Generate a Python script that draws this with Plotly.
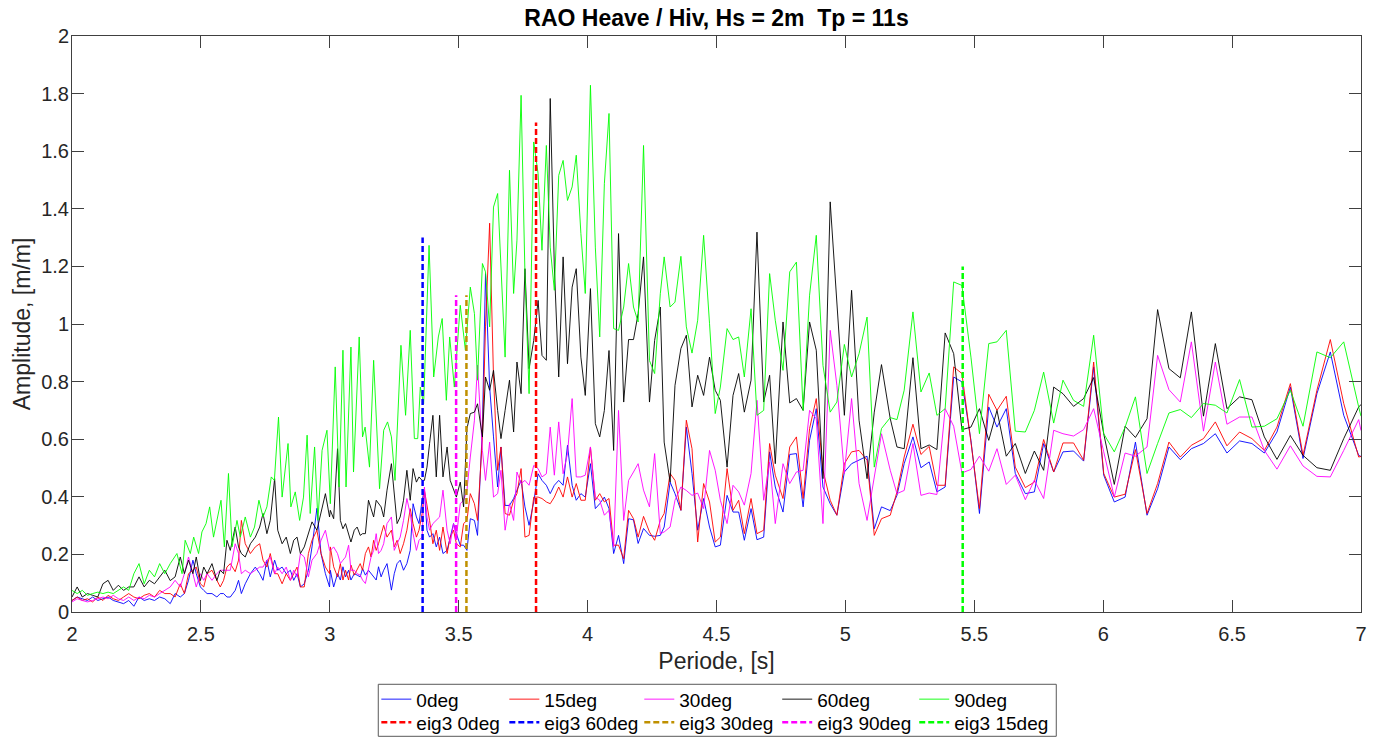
import plotly.graph_objects as go

# ---------------- period grids (s) ----------------
period_A0 = [2.00, 2.02, 2.04, 2.06, 2.08, 2.10, 2.12, 2.14, 2.16, 2.18,
             2.20, 2.22, 2.24, 2.26, 2.28, 2.30, 2.32, 2.34, 2.36]
period_A1 = [2.381, 2.400, 2.420, 2.436, 2.452, 2.469, 2.482, 2.498, 2.511, 2.524,
             2.543, 2.562, 2.575, 2.588, 2.601, 2.614, 2.633, 2.646, 2.657, 2.672,
             2.692, 2.711, 2.728, 2.741, 2.756, 2.769, 2.786, 2.798, 2.815, 2.831,
             2.847, 2.860, 2.873, 2.886, 2.901, 2.917, 2.931, 2.950, 2.966, 2.983, 2.999]
period_A1_green = [2.381, 2.407, 2.427, 2.439, 2.459, 2.472, 2.491, 2.504, 2.520, 2.534,
                   2.549, 2.562, 2.578, 2.591, 2.607, 2.621, 2.640, 2.653, 2.672, 2.692,
                   2.708, 2.725, 2.741, 2.756, 2.773, 2.785, 2.801, 2.815, 2.838, 2.849,
                   2.866, 2.883, 2.898, 2.912, 2.924, 2.941, 2.954, 2.970, 2.989]
period_B = [3.002, 3.015, 3.030, 3.041, 3.051, 3.061, 3.073, 3.082, 3.095, 3.106,
            3.118, 3.127, 3.138, 3.150, 3.160, 3.170, 3.180, 3.189, 3.199, 3.209,
            3.222, 3.239, 3.250, 3.261, 3.273, 3.286, 3.299, 3.312, 3.323, 3.336,
            3.346, 3.358, 3.367, 3.377, 3.387, 3.400, 3.413, 3.426, 3.439, 3.455,
            3.467, 3.480, 3.491, 3.506, 3.519, 3.532]
period_B_green = [3.002, 3.021, 3.036, 3.051, 3.063, 3.082, 3.092, 3.114, 3.127, 3.137,
                  3.154, 3.170, 3.193, 3.209, 3.224, 3.239, 3.253, 3.276, 3.294, 3.312,
                  3.328, 3.341, 3.351, 3.364, 3.385, 3.403, 3.421, 3.436, 3.452, 3.465,
                  3.483, 3.506, 3.526]
period_hi = [3.545, 3.561, 3.573, 3.592, 3.604, 3.620, 3.635, 3.651, 3.664, 3.680,
             3.697, 3.713, 3.726, 3.742, 3.757, 3.773, 3.791, 3.808, 3.823, 3.840,
             3.855, 3.871, 3.888, 3.905, 3.922, 3.940, 3.956, 3.974, 3.991, 4.011,
             4.030, 4.047,
             4.065, 4.083, 4.101, 4.120, 4.140, 4.159, 4.178, 4.196, 4.217, 4.240, 4.260,
             4.282, 4.297, 4.320, 4.339, 4.362, 4.383, 4.405, 4.427, 4.450, 4.473,
             4.495, 4.515, 4.541, 4.564, 4.586, 4.608, 4.634, 4.657, 4.683, 4.706,
             4.728, 4.758, 4.784, 4.810, 4.836, 4.861, 4.887, 4.913, 4.941, 4.967,
             4.996, 5.024, 5.053, 5.084, 5.112, 5.140,
             5.174, 5.200, 5.228, 5.262, 5.293, 5.325, 5.355, 5.387, 5.420, 5.452,
             5.487, 5.520, 5.556, 5.588, 5.624, 5.659, 5.698, 5.733, 5.769, 5.808,
             5.844, 5.885, 5.924, 5.963, 6.002, 6.043,
             6.085, 6.125, 6.170, 6.211, 6.255, 6.299, 6.342, 6.389, 6.435, 6.480,
             6.529, 6.577, 6.625, 6.674, 6.726, 6.775, 6.829, 6.881, 6.933, 6.991, 7.000]

# ---------------- 0deg (blue) ----------------
amp_0deg_A0 = [0.040, 0.052, 0.046, 0.040, 0.052, 0.040, 0.046, 0.052, 0.040, 0.035,
               0.029, 0.040, 0.020, 0.052, 0.040, 0.046, 0.040, 0.052, 0.046]
amp_0deg_A1 = [0.029, 0.064, 0.052, 0.064, 0.110, 0.180, 0.133, 0.087, 0.075, 0.064,
               0.064, 0.052, 0.064, 0.064, 0.052, 0.052, 0.075, 0.110, 0.064, 0.098,
               0.133, 0.156, 0.133, 0.110, 0.180, 0.122, 0.180, 0.145, 0.156, 0.133,
               0.145, 0.110, 0.133, 0.087, 0.098, 0.145, 0.226, 0.360, 0.203, 0.133, 0.087]
amp_0deg_B = [0.145, 0.087, 0.133, 0.111, 0.157, 0.122, 0.145, 0.111, 0.133, 0.128,
              0.122, 0.151, 0.128, 0.145, 0.133, 0.122, 0.111, 0.157, 0.122, 0.145,
              0.168, 0.076, 0.133, 0.168, 0.180, 0.145, 0.168, 0.214, 0.376, 0.330,
              0.307, 0.388, 0.423, 0.284, 0.260, 0.272, 0.226, 0.260, 0.203, 0.214,
              0.260, 0.307, 0.272, 0.232, 0.232, 0.214]
amp_0deg_hi = [0.324, 0.318, 0.266, 0.642, 1.175, 0.781, 0.608, 0.434, 0.573, 0.370,
               0.370, 0.394, 0.423, 0.457, 0.365, 0.301, 0.382, 0.480, 0.457, 0.440,
               0.411, 0.440, 0.457, 0.440, 0.579, 0.440, 0.388, 0.411, 0.399, 0.515,
               0.359, 0.376,
               0.399, 0.359, 0.203, 0.266, 0.168, 0.324, 0.320, 0.238, 0.290, 0.266, 0.263,
               0.266, 0.295, 0.451, 0.411, 0.353, 0.642, 0.481, 0.284, 0.394, 0.295,
               0.226, 0.232, 0.405, 0.347, 0.347, 0.249, 0.359, 0.251, 0.260, 0.556,
               0.434, 0.347, 0.547, 0.550, 0.365, 0.596, 0.706, 0.434, 0.376, 0.336,
               0.486, 0.515, 0.527, 0.541, 0.289, 0.365,
               0.352, 0.405, 0.515, 0.608, 0.501, 0.521, 0.417, 0.434, 0.816, 0.799,
               0.596, 0.342, 0.712, 0.642, 0.706, 0.481, 0.411, 0.417, 0.585, 0.486,
               0.556, 0.559, 0.524, 0.851, 0.475, 0.382,
               0.399, 0.590, 0.336, 0.428, 0.573, 0.529, 0.567, 0.585, 0.619, 0.552,
               0.594, 0.585, 0.552, 0.625, 0.781, 0.533, 0.758, 0.903, 0.683, 0.544, 0.540]

# ---------------- 15deg (red) ----------------
amp_15deg_A0 = [0.040, 0.052, 0.040, 0.046, 0.035, 0.052, 0.040, 0.058, 0.046, 0.040,
                0.052, 0.064, 0.052, 0.046, 0.058, 0.064, 0.052, 0.075, 0.064]
amp_15deg_A1 = [0.064, 0.052, 0.098, 0.064, 0.133, 0.145, 0.156, 0.098, 0.087, 0.133,
                0.145, 0.110, 0.087, 0.110, 0.156, 0.168, 0.140, 0.180, 0.318, 0.237,
                0.203, 0.226, 0.237, 0.180, 0.156, 0.203, 0.133, 0.133, 0.098, 0.133,
                0.110, 0.133, 0.156, 0.087, 0.087, 0.203, 0.249, 0.284, 0.203, 0.156, 0.133]
amp_15deg_B = [0.226, 0.157, 0.122, 0.168, 0.111, 0.145, 0.111, 0.163, 0.128, 0.145,
               0.168, 0.145, 0.203, 0.226, 0.191, 0.249, 0.214, 0.237, 0.272, 0.301,
               0.260, 0.284, 0.226, 0.249, 0.203, 0.237, 0.284, 0.359, 0.307, 0.260,
               0.284, 0.341, 0.423, 0.376, 0.318, 0.237, 0.284, 0.214, 0.295, 0.203,
               0.260, 0.284, 0.237, 0.226, 0.307, 0.318]
amp_15deg_hi = [0.411, 0.376, 0.318, 0.608, 0.990, 1.350, 0.816, 0.492, 0.573, 0.342,
                0.336, 0.388, 0.411, 0.498, 0.260, 0.266, 0.399, 0.399, 0.394, 0.382,
                0.376, 0.399, 0.434, 0.399, 0.469, 0.399, 0.446, 0.388, 0.388, 0.573,
                0.388, 0.411,
                0.382, 0.394, 0.232, 0.232, 0.185, 0.353, 0.324, 0.260, 0.332, 0.278, 0.249,
                0.318, 0.342, 0.481, 0.457, 0.353, 0.666, 0.567, 0.243, 0.446, 0.382,
                0.243, 0.260, 0.498, 0.353, 0.388, 0.272, 0.394, 0.272, 0.284, 0.585,
                0.475, 0.394, 0.573, 0.608, 0.394, 0.637, 0.741, 0.492, 0.388, 0.336,
                0.515, 0.556, 0.561, 0.527, 0.266, 0.324,
                0.336, 0.417, 0.538, 0.652, 0.547, 0.575, 0.440, 0.440, 0.851, 0.828,
                0.590, 0.359, 0.756, 0.700, 0.749, 0.503, 0.432, 0.451, 0.599, 0.486,
                0.587, 0.587, 0.527, 0.868, 0.481, 0.399,
                0.409, 0.564, 0.342, 0.446, 0.590, 0.538, 0.579, 0.602, 0.660, 0.577,
                0.625, 0.602, 0.561, 0.642, 0.793, 0.544, 0.770, 0.946, 0.724, 0.538, 0.540]

# ---------------- 30deg (magenta) ----------------
amp_30deg_A0 = [0.035, 0.046, 0.040, 0.035, 0.040, 0.046, 0.052, 0.046, 0.058, 0.046,
                0.040, 0.052, 0.040, 0.052, 0.046, 0.058, 0.052, 0.064, 0.075]
amp_30deg_A1 = [0.087, 0.110, 0.087, 0.133, 0.191, 0.133, 0.087, 0.133, 0.110, 0.133,
                0.110, 0.133, 0.145, 0.145, 0.145, 0.145, 0.237, 0.203, 0.133, 0.145,
                0.133, 0.145, 0.156, 0.156, 0.180, 0.191, 0.133, 0.156, 0.133, 0.156,
                0.110, 0.145, 0.122, 0.203, 0.191, 0.122, 0.180, 0.203, 0.249, 0.284, 0.214]
amp_30deg_B = [0.214, 0.226, 0.203, 0.168, 0.180, 0.191, 0.232, 0.145, 0.145, 0.133,
               0.128, 0.111, 0.099, 0.145, 0.191, 0.214, 0.272, 0.203, 0.214, 0.237,
               0.307, 0.330, 0.214, 0.237, 0.260, 0.318, 0.394, 0.341, 0.272, 0.214,
               0.249, 0.260, 0.434, 0.330, 0.284, 0.307, 0.318, 0.330, 0.423, 0.284,
               0.237, 0.307, 0.260, 0.376, 0.388, 0.423]
amp_30deg_hi = [0.538, 0.666, 0.857, 0.561, 0.457, 0.590, 0.399, 0.411, 0.492, 0.284,
                0.376, 0.318, 0.486, 0.446, 0.457, 0.440, 0.509, 0.498, 0.469, 0.480,
                0.642, 0.475, 0.660, 0.480, 0.550, 0.741, 0.469, 0.469, 0.475, 0.573,
                0.399, 0.388,
                0.336, 0.353, 0.226, 0.700, 0.318, 0.457, 0.486, 0.515, 0.423, 0.365, 0.550,
                0.272, 0.278, 0.295, 0.388, 0.434, 0.422, 0.405, 0.413, 0.359, 0.561,
                0.492, 0.388, 0.307, 0.440, 0.417, 0.371, 0.481, 0.735, 0.388, 0.521,
                0.307, 0.515, 0.446, 0.486, 0.492, 0.700, 0.671, 0.307, 0.978, 0.787,
                0.481, 0.741, 0.446, 0.318, 0.475, 0.619,
                0.492, 0.411, 0.422, 0.585, 0.405, 0.413, 0.408, 0.706, 0.645, 0.483,
                0.495, 0.541, 0.489, 0.567, 0.443, 0.475, 0.390, 0.458, 0.394, 0.631,
                0.619, 0.611, 0.633, 0.706, 0.556, 0.399,
                0.552, 0.541, 0.573, 0.891, 0.772, 0.729, 0.938, 0.628, 0.868, 0.652,
                0.677, 0.677, 0.561, 0.496, 0.577, 0.507, 0.471, 0.469, 0.561, 0.668, 0.630]

# ---------------- 60deg (black) ----------------
amp_60deg_A0 = [0.052, 0.087, 0.052, 0.064, 0.058, 0.052, 0.098, 0.110, 0.075, 0.093,
                0.075, 0.087, 0.087, 0.122, 0.087, 0.110, 0.098, 0.122, 0.145]
amp_60deg_A1 = [0.109, 0.122, 0.191, 0.133, 0.180, 0.133, 0.191, 0.109, 0.156, 0.133,
                0.168, 0.109, 0.145, 0.133, 0.249, 0.214, 0.295, 0.226, 0.203, 0.191,
                0.237, 0.260, 0.295, 0.342, 0.272, 0.318, 0.463, 0.284, 0.237, 0.260,
                0.203, 0.249, 0.260, 0.203, 0.226, 0.272, 0.313, 0.284, 0.342, 0.411, 0.330]
amp_60deg_B = [0.353, 0.324, 0.567, 0.318, 0.289, 0.307, 0.272, 0.243, 0.284, 0.295,
               0.266, 0.272, 0.272, 0.388, 0.359, 0.330, 0.388, 0.376, 0.365, 0.330,
               0.423, 0.515, 0.423, 0.307, 0.330, 0.388, 0.492, 0.388, 0.498, 0.451,
               0.469, 0.457, 0.457, 0.503, 0.585, 0.683, 0.469, 0.683, 0.469, 0.573,
               0.457, 0.423, 0.399, 0.451, 0.365, 0.637]
amp_60deg_hi = [0.689, 0.694, 0.723, 0.608, 0.816, 0.770, 0.839, 0.700, 0.602, 0.700,
                0.805, 0.625, 0.868, 0.758, 1.192, 0.845, 0.943, 1.082, 0.891, 0.874,
                1.783, 1.198, 0.816, 1.233, 0.862, 1.128, 1.192, 0.885, 0.752, 1.123,
                0.654, 0.608,
                0.700, 0.908, 0.561, 1.314, 0.729, 0.946, 0.946, 1.036, 1.233, 0.729, 0.943,
                1.059, 0.590, 0.451, 0.787, 0.915, 0.961, 0.712, 0.822, 0.752, 0.885,
                0.770, 0.735, 0.503, 0.752, 0.828, 0.694, 0.805, 1.319, 0.729, 0.822,
                0.515, 1.007, 0.726, 0.741, 0.700, 1.007, 0.909, 0.463, 1.424, 1.059,
                0.683, 1.117, 0.666, 0.463, 0.694, 0.859,
                0.671, 0.573, 0.567, 0.883, 0.567, 0.580, 0.564, 0.969, 0.897, 0.633,
                0.642, 0.706, 0.596, 0.700, 0.541, 0.585, 0.481, 0.559, 0.492, 0.781,
                0.758, 0.714, 0.741, 0.814, 0.619, 0.443,
                0.645, 0.606, 0.671, 1.050, 0.845, 0.813, 1.042, 0.680, 0.932, 0.706,
                0.747, 0.737, 0.608, 0.530, 0.613, 0.544, 0.501, 0.492, 0.602, 0.712, 0.720]

# ---------------- 90deg (green) ----------------
amp_90deg_A0 = [0.075, 0.064, 0.075, 0.058, 0.064, 0.069, 0.064, 0.069, 0.064, 0.075,
                0.087, 0.075, 0.133, 0.168, 0.098, 0.145, 0.122, 0.168, 0.133]
amp_90deg_A1 = [0.168, 0.203, 0.133, 0.249, 0.203, 0.260, 0.203, 0.278, 0.307, 0.365,
                0.260, 0.313, 0.388, 0.226, 0.481, 0.226, 0.318, 0.260, 0.330, 0.260,
                0.295, 0.388, 0.330, 0.365, 0.469, 0.457, 0.677, 0.399, 0.585, 0.365,
                0.417, 0.318, 0.399, 0.614, 0.342, 0.573, 0.318, 0.561, 0.631]
amp_90deg_B = [0.376, 0.851, 0.434, 0.909, 0.434, 0.920, 0.486, 0.955, 0.608, 0.642,
               0.503, 0.874, 0.428, 0.631, 0.660, 0.608, 0.457, 0.926, 0.683, 0.978,
               0.602, 0.602, 0.781, 0.723, 1.273, 0.816, 0.955, 1.019, 0.735, 0.955,
               0.781, 1.065, 0.909]
amp_90deg_hi = [1.128, 1.036, 0.805, 1.210, 1.181, 0.990, 1.406, 1.453, 1.198, 0.885,
                1.534, 1.106, 1.291, 1.794, 1.175, 0.758, 1.632, 1.522, 1.256, 1.620,
                1.267, 1.117, 1.516, 1.568, 1.429, 1.476, 1.586, 1.314, 1.106, 1.829,
                1.267, 0.955,
                1.487, 1.731, 0.984, 0.978, 1.059, 1.210, 1.059, 1.007, 1.620, 0.873, 0.828,
                1.105, 1.233, 1.059, 1.076, 1.235, 0.990, 0.899, 1.013, 1.308, 1.001,
                0.689, 0.781, 0.984, 0.946, 0.955, 0.816, 1.053, 0.683, 0.700, 1.175,
                1.013, 0.839, 1.181, 1.215, 0.700, 1.100, 1.308, 0.856, 0.694, 0.729,
                0.929, 0.816, 0.897, 1.024, 0.503, 0.637,
                0.675, 0.668, 0.770, 1.042, 0.764, 0.830, 0.683, 0.706, 1.146, 1.134,
                0.885, 0.619, 0.932, 0.938, 0.978, 0.628, 0.625, 0.700, 0.833, 0.656,
                0.805, 0.735, 0.714, 0.961, 0.619, 0.556,
                0.642, 0.747, 0.481, 0.585, 0.691, 0.703, 0.675, 0.724, 0.718, 0.691,
                0.807, 0.642, 0.645, 0.671, 0.770, 0.645, 0.903, 0.883, 0.938, 0.712, 0.680]

# ---------------- eig3 markers ----------------
eig_names = ["eig3 0deg", "eig3 60deg", "eig3 30deg", "eig3 90deg", "eig3 15deg"]
eig_period = [3.80, 3.36, 3.53, 3.49, 5.455]
eig_height = [1.70, 1.30, 1.10, 1.10, 1.20]

period_common = period_A0 + period_A1 + period_B + period_hi
period_green = period_A0 + period_A1_green + period_B_green + period_hi

series = [
    ("0deg", period_common, amp_0deg_A0 + amp_0deg_A1 + amp_0deg_B + amp_0deg_hi, "#0000ff"),
    ("15deg", period_common, amp_15deg_A0 + amp_15deg_A1 + amp_15deg_B + amp_15deg_hi, "#ff0000"),
    ("30deg", period_common, amp_30deg_A0 + amp_30deg_A1 + amp_30deg_B + amp_30deg_hi, "#ff00ff"),
    ("60deg", period_common, amp_60deg_A0 + amp_60deg_A1 + amp_60deg_B + amp_60deg_hi, "#000000"),
    ("90deg", period_green, amp_90deg_A0 + amp_90deg_A1 + amp_90deg_B + amp_90deg_hi, "#00ff00"),
]
eig_colors = ["#ff0000", "#0000ff", "#bf9000", "#ff00ff", "#00ff00"]

FONT = "Liberation Sans, Arial, Helvetica, sans-serif"
AX = "#404040"

# one single-entry legend per cell of the 2 x 5 legend grid
legend_ids = ["legend"] + ["legend%d" % i for i in range(2, 11)]
col_x = [0.2361, 0.3354, 0.4401, 0.5471, 0.6534]
row_y = [(611.7 - 699) / 576, (611.7 - 722) / 576]

fig = go.Figure()
for i, (name, xs, ys, col) in enumerate(series):
    fig.add_trace(go.Scatter(x=xs, y=ys, mode="lines", name=name,
                             line=dict(color=col, width=0.9), legend=legend_ids[i]))
for i, (name, p, h, col) in enumerate(zip(eig_names, eig_period, eig_height, eig_colors)):
    fig.add_trace(go.Scatter(x=[p, p], y=[0, h], mode="lines", name=name,
                             line=dict(color=col, width=2.5, dash="6px,3px"),
                             legend=legend_ids[5 + i]))

legend_layout = {}
for i, lid in enumerate(legend_ids):
    legend_layout[lid] = dict(orientation="v", xanchor="left", yanchor="middle",
                              x=col_x[i % 5], y=row_y[i // 5],
                              bgcolor="rgba(0,0,0,0)", borderwidth=0,
                              font=dict(family=FONT, size=19, color="#000000"))

fig.update_layout(
    width=1386, height=739,
    margin=dict(l=72, r=25, t=36, b=127, autoexpand=False),
    paper_bgcolor="white", plot_bgcolor="white",
    font=dict(family=FONT, color="#262626"),
    title=dict(text="<b>RAO Heave / Hiv, Hs = 2m&nbsp; Tp = 11s</b>",
               x=0.5, xref="paper", xanchor="center",
               y=1 - 18 / 739, yref="container", yanchor="middle",
               font=dict(family=FONT, size=23, color="#000000")),
    xaxis=dict(range=[2, 7], tick0=2, dtick=0.5, ticks="inside", ticklen=12,
               tickcolor=AX, tickwidth=1, showline=True, linecolor=AX, linewidth=1,
               mirror="ticks", showgrid=False, zeroline=False,
               tickfont=dict(family=FONT, size=20, color="#262626"),
               ticklabelstandoff=4,
               title=dict(text="Periode, [s]", standoff=8,
                          font=dict(family=FONT, size=23, color="#262626"))),
    yaxis=dict(range=[0, 2], tick0=0, dtick=0.2, ticks="inside", ticklen=12,
               tickcolor=AX, tickwidth=1, showline=True, linecolor=AX, linewidth=1,
               mirror="ticks", showgrid=False, zeroline=False,
               tickfont=dict(family=FONT, size=20, color="#262626"),
               ticklabelstandoff=-2,
               title=dict(text="Amplitude, [m/m]", standoff=4,
                          font=dict(family=FONT, size=23, color="#262626"))),
    shapes=[dict(type="rect", xref="paper", yref="paper",
                 x0=0.2376, x1=0.7636, y0=-0.2158, y1=-0.1255,
                 line=dict(color="#595959", width=1), fillcolor="rgba(0,0,0,0)")],
    showlegend=True,
    **legend_layout,
)

fig.write_html("out.html")
